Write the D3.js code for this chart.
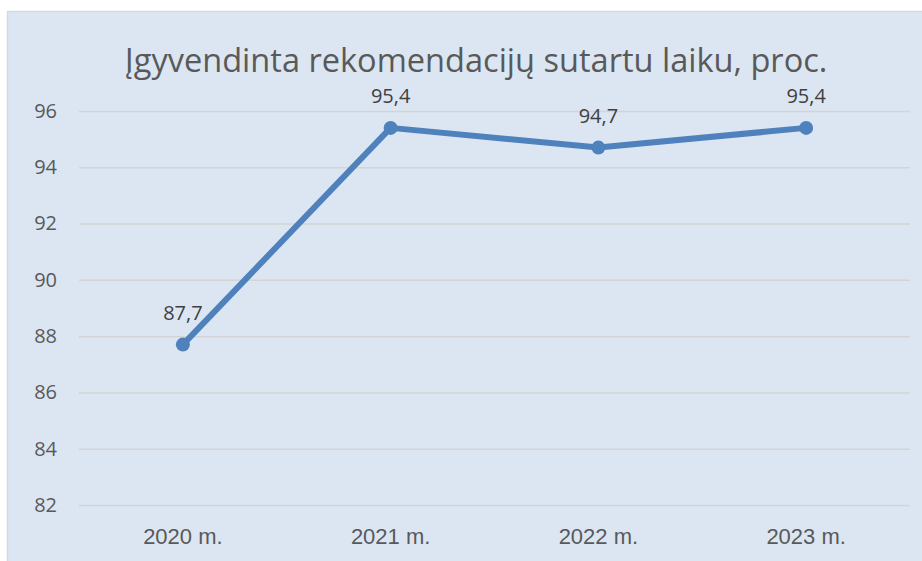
<!DOCTYPE html>
<html>
<head>
  <meta charset="utf-8">
  <title>Įgyvendinta rekomendacijų</title>
  <script src="https://d3js.org/d3.v7.min.js"></script>
  <style>
    body { margin: 0; background: #fff; }
  </style>
</head>
<body>
  <div id="chart"></div>
  <script>
  const years = ["2020 m.", "2021 m.", "2022 m.", "2023 m."];
  const values = [87.7, 95.4, 94.7, 95.4];
  const yTicks = [82, 84, 86, 88, 90, 92, 94, 96];

  const W = 922, H = 561;
  const margin = { top: 111, right: 12, bottom: 56, left: 79 };
  const width = W - margin.left - margin.right;
  const height = H - margin.top - margin.bottom;
  const font = "'Open Sans', 'Noto Sans', sans-serif";

  const svg = d3.select("#chart")
    .append("svg")
    .attr("width", W)
    .attr("height", H);

  // chart area background
  svg.append("rect")
    .attr("x", 7.5).attr("y", 11.5)
    .attr("width", W).attr("height", H)
    .attr("fill", "#dce6f2")
    .attr("stroke", "#d9d9d9")
    .attr("stroke-width", 1.5);

  const title = svg.append("text")
    .attr("x", 476).attr("y", 72)
    .attr("text-anchor", "middle")
    .attr("font-family", font)
    .attr("font-size", 28)
    .attr("fill", "#595959")
    .text("Įgyvendinta rekomendacijų  sutartu laiku, proc.");
  // squeeze to the width of the original title
  const tw = title.node().getComputedTextLength();
  title.attr("font-size", 28 * 703 / tw);

  const g = svg.append("g")
    .attr("transform", `translate(${margin.left},${margin.top})`);

  const x = d3.scaleBand().domain(years).range([0, width]);
  const y = d3.scaleLinear().domain([82, 96]).range([height, 0]);

  const yAxis = g.append("g")
    .call(d3.axisLeft(y).tickValues(yTicks).tickSize(-width).tickPadding(22).tickFormat(d3.format("d")));
  yAxis.select(".domain").remove();
  yAxis.selectAll("line").attr("stroke", "#d4d4d4").attr("stroke-width", 1.5);
  yAxis.selectAll("text")
    .attr("font-family", font)
    .attr("font-size", 20)
    .attr("fill", "#595959");

  const xAxis = g.append("g")
    .attr("transform", `translate(0,${height})`)
    .call(d3.axisBottom(x).tickSize(0).tickPadding(23));
  xAxis.select(".domain").remove();
  xAxis.selectAll("text")
    .attr("font-family", "'Liberation Sans Narrow', sans-serif")
    .attr("font-size", 22)
    .attr("fill", "#595959");

  const pts = years.map((c, i) => [x(c) + x.bandwidth() / 2, y(values[i])]);

  g.append("path")
    .attr("d", d3.line()(pts))
    .attr("fill", "none")
    .attr("stroke", "#4f81bd")
    .attr("stroke-width", 6)
    .attr("stroke-linejoin", "round");

  g.selectAll("circle.pt")
    .data(values)
    .join("circle")
    .attr("class", "pt")
    .attr("cx", (d, i) => x(years[i]) + x.bandwidth() / 2)
    .attr("cy", d => y(d))
    .attr("r", 7)
    .attr("fill", "#4f81bd");

  g.selectAll("text.lbl")
    .data(values)
    .join("text")
    .attr("class", "lbl")
    .attr("x", (d, i) => x(years[i]) + x.bandwidth() / 2)
    .attr("y", d => y(d) - 25)
    .attr("text-anchor", "middle")
    .attr("font-family", font)
    .attr("font-size", 20)
    .attr("fill", "#404040")
    .text(d => d3.format(".1f")(d).replace(".", ","));
  </script>
</body>
</html>
